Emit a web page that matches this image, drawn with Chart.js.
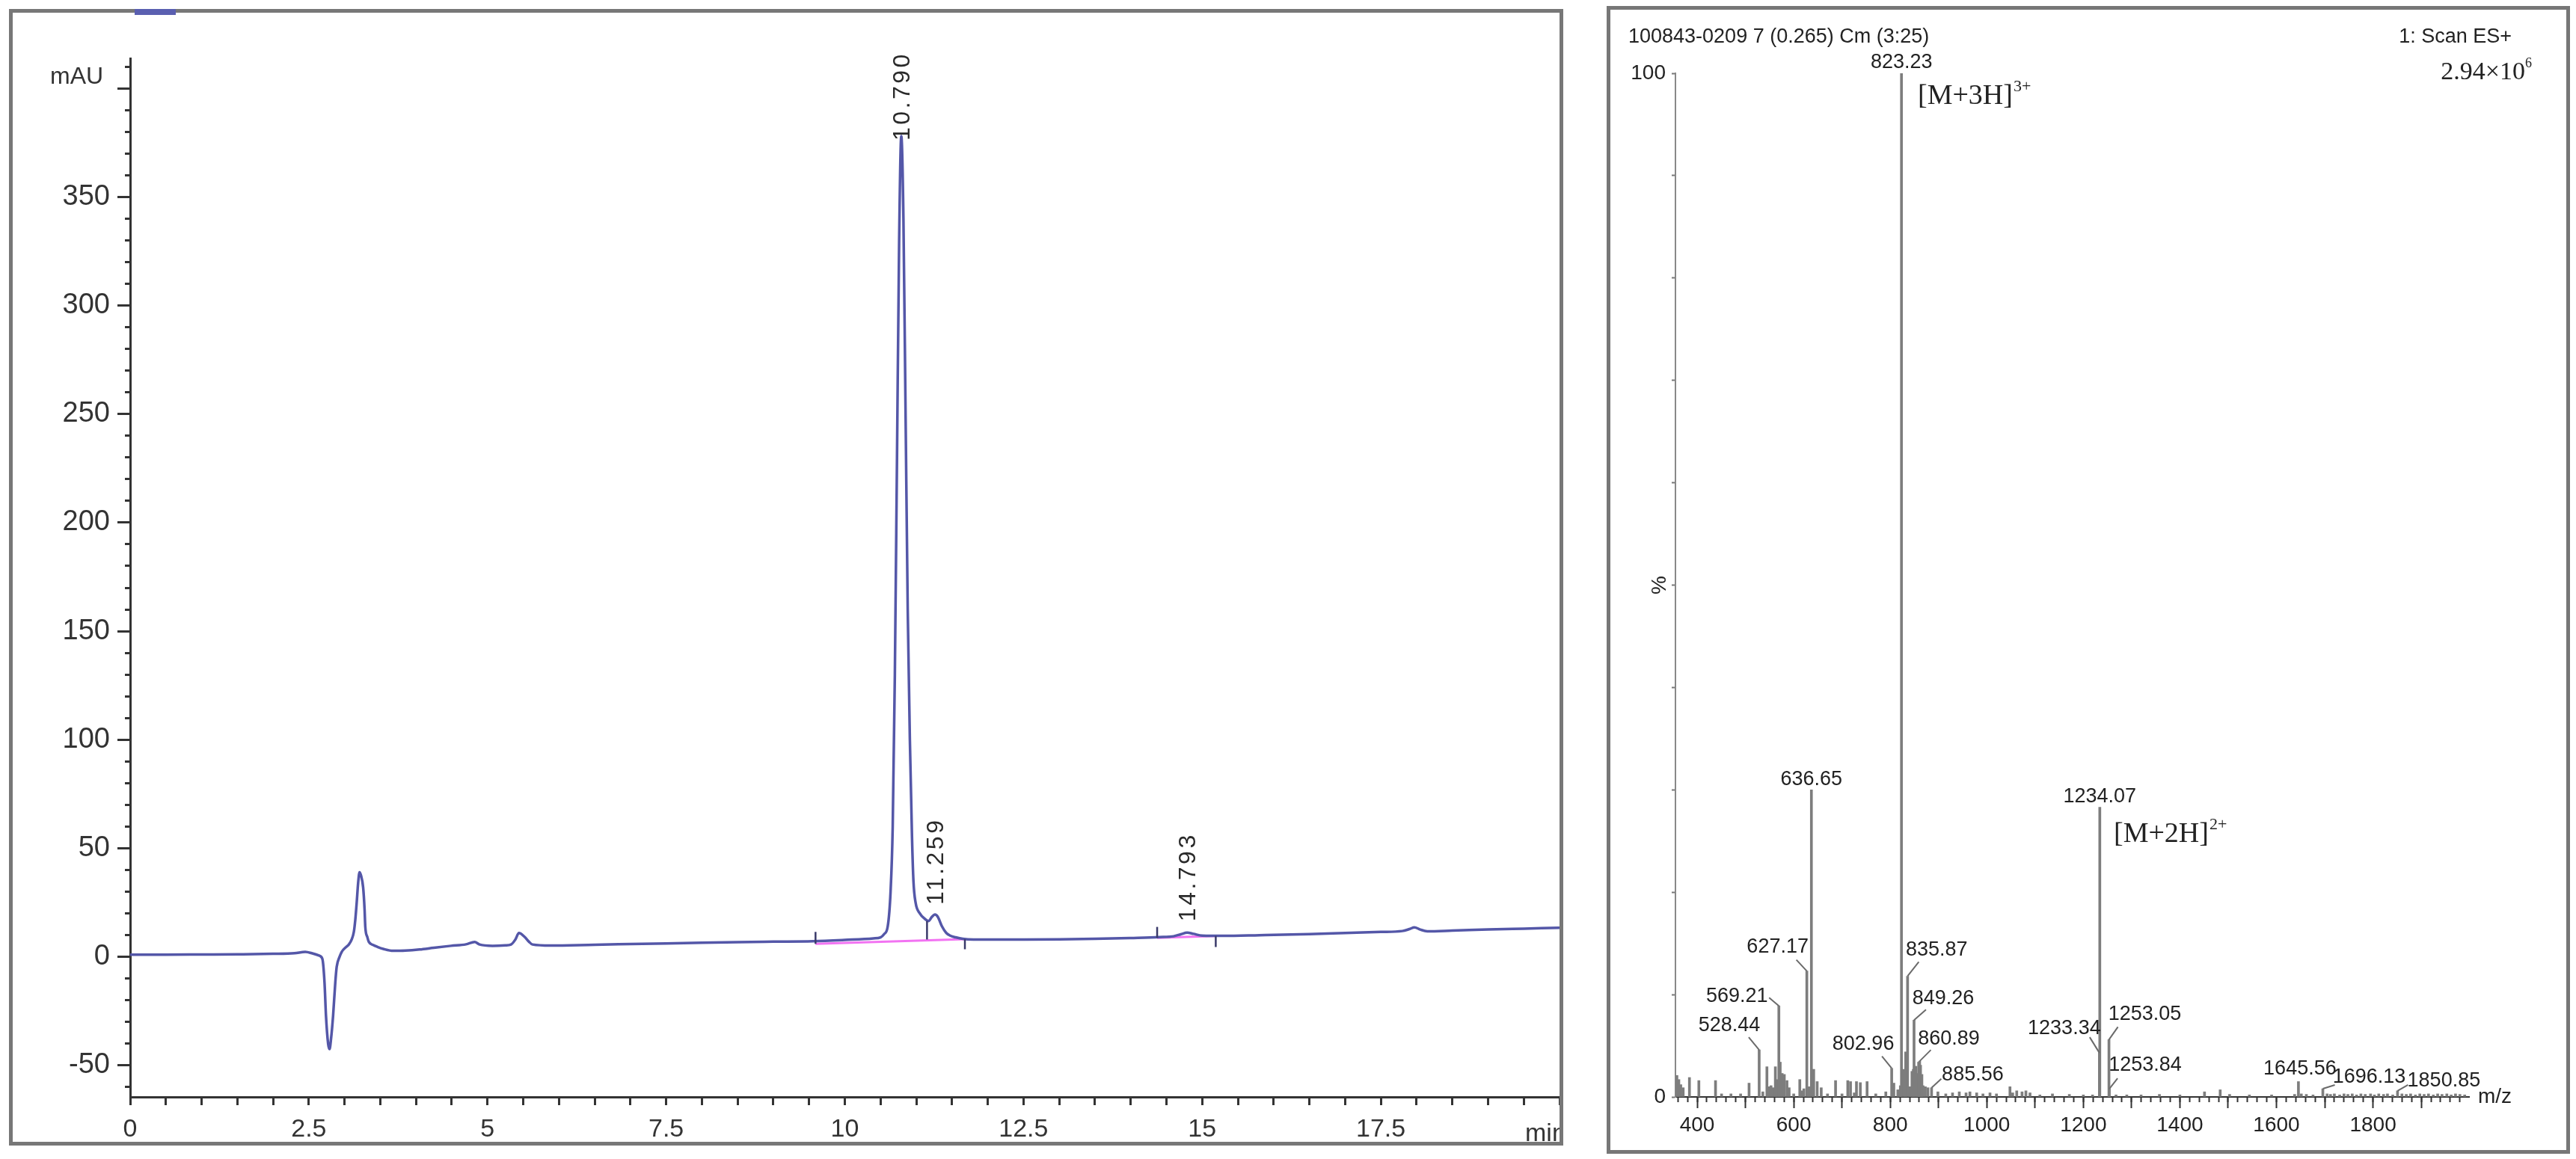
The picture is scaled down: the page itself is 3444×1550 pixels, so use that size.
<!DOCTYPE html>
<html>
<head>
<meta charset="utf-8">
<script src="https://cdn.jsdelivr.net/npm/chart.js@4.4.1/dist/chart.umd.min.js"></script>
<style>
body { margin:0; background:#fff; width:3444px; height:1550px; overflow:hidden; position:relative; }
.panel { position:absolute; box-sizing:border-box; border:5px solid #777; background:#fff; }
#p1 { left:12px; top:12px; width:2078px; height:1520px; }
#p2 { left:2148px; top:8px; width:1288px; height:1535px; }
.panel canvas { position:absolute; left:0; top:0; }
#stub { position:absolute; left:180px; top:12px; width:55px; height:8px; background:#5a5fb0; }
</style>
</head>
<body>
<div class="panel" id="p1"><canvas id="c1" width="2068" height="1510"></canvas></div>
<div class="panel" id="p2"><canvas id="c2" width="1278" height="1525"></canvas></div>
<div id="stub"></div>
<script>
// HPLC trace (min, mAU)
const hplcTime = [0,0.5,1,1.5,2,2.3,2.45,2.55,2.65,2.69,2.72,2.74,2.77,2.79,2.81,2.84,2.87,2.89,2.93,2.96,3.02,3.06,3.1,3.13,3.15,3.17,3.19,3.21,3.23,3.26,3.28,3.29,3.32,3.34,3.4,3.46,3.55,3.68,3.85,4.05,4.25,4.49,4.7,4.82,4.89,5.07,5.25,5.33,5.39,5.44,5.52,5.58,5.63,5.88,6.5,7,7.5,8,8.5,9,9.55,10,10.4,10.5,10.55,10.6,10.64,10.67,10.7,10.73,10.76,10.79,10.82,10.85,10.88,10.91,10.94,10.96,10.99,11.05,11.12,11.17,11.22,11.26,11.3,11.36,11.42,11.48,11.55,11.65,11.8,12.5,13,13.5,14,14.4,14.6,14.7,14.79,14.88,15,15.3,15.8,16.5,17,17.5,17.8,17.9,17.97,18.05,18.15,18.5,19,19.5,20]
const hplcAbs = [1.0,1.0,1.1,1.2,1.4,1.7,2.3,1.6,0.5,-1,-12,-27,-40,-42.5,-38,-27,-12,-4.6,0,2.3,4.5,5.7,8,11.5,17,25,34,39,37.5,32,22,14,9,6.9,5.5,4.6,3.6,2.8,2.9,3.4,4.2,5.1,5.8,6.9,5.7,5.1,5.3,5.7,8,11,9.2,7,5.7,5.2,5.6,5.9,6.2,6.5,6.8,7.0,7.2,7.8,8.5,9.0,10.5,14,30,60,130,230,330,378,340,250,160,100,55,35,25,20,17.5,16.5,18.5,19.5,18.5,14,11,9.7,9.0,8.3,8.0,8.0,8.1,8.3,8.7,9.1,9.5,10.4,11.2,10.6,9.8,9.7,10.0,10.5,11.0,11.5,11.9,12.8,13.6,12.6,11.8,12.1,12.6,13.0,13.4]

const hplcPeakNames = ['10.790', '11.259', '14.793']
const hplcPeakTimes = [10.79, 11.259, 14.793]
const hplcPeakTops = [378, 19.5, 11.2]

// integration baselines [t1, y1, t2, y2] and event marks [t, yFrom, yTo]
const hplcBaselines = [[9.59, 6.0, 11.68, 8.2], [14.37, 8.8, 15.19, 9.6]]
const hplcEvents = [[9.59, 6.0, 11.5], [11.15, 8.0, 16.5], [11.68, 8.2, 3.5], [14.37, 8.8, 13.8], [15.19, 9.6, 4.5]]

// MS spectrum (m/z, relative %)
const msMz = [358,362,366,371,384,403.5,438,450.5,470,490,507.5,528.44,536,544.5,548.5,553,557,562,565.6,569.21,572,576,580.5,586,590.5,600,612.6,616.5,621,627.17,631.4,636.65,641.4,648.6,657,670,686.7,700,712,717.7,725.5,730,738,752,770,790.8,802.96,807.4,815.7,821,823.23,828.4,832,835.87,840.6,845,847.8,849.26,853,856,858.8,860.89,862.7,865.5,868,872.6,878,885.56,898.7,915,929,943,957,965,979,992,1006.6,1020,1048,1053.6,1062,1073,1081,1089.5,1110,1136,1171,1200,1219,1233.34,1234.07,1253.05,1253.84,1267.7,1290,1319.6,1357.6,1400,1451,1483.5,1503,1544,1590,1637.7,1645.56,1651.5,1662,1675.8,1696.13,1705,1712,1720,1731,1740,1748,1757,1766,1775,1784,1795,1803,1812,1822,1830,1841,1850.85,1860,1869,1878,1888,1897,1906,1915,1925,1934,1943,1953,1962,1971,1980,1990]
const msPct = [2.1,1.7,1.2,0.9,1.9,1.6,1.6,0.3,0.3,0.3,1.35,4.6,0.5,2.95,1.0,1.1,0.9,2.95,1.7,8.9,3.4,2.3,2.2,1.6,0.9,0.3,1.7,0.6,0.8,12.3,1.0,30.0,2.7,1.5,0.9,0.3,1.6,0.3,1.6,1.5,0.4,1.5,1.4,1.5,0.3,0.5,2.8,1.35,0.7,1.1,100,2.7,4.4,11.8,1.0,2.5,2.7,7.5,3.0,2.3,3.4,3.5,3.1,2.2,1.1,1.0,0.9,0.9,0.5,0.3,0.4,0.5,0.4,0.5,0.4,0.3,0.4,0.3,1.0,0.4,0.6,0.5,0.6,0.4,0.2,0.3,0.25,0.2,0.2,4.3,28.3,5.6,0.8,0.2,0.2,0.2,0.25,0.2,0.5,0.7,0.25,0.2,0.2,0.25,1.5,0.3,0.25,0.2,0.8,0.3,0.25,0.3,0.2,0.3,0.25,0.3,0.2,0.3,0.25,0.3,0.2,0.3,0.25,0.3,0.2,0.6,0.3,0.25,0.3,0.2,0.3,0.25,0.3,0.2,0.3,0.25,0.3,0.2,0.3,0.25,0.2]

const msLabelMz = [823.23, 636.65, 1234.07, 627.17, 569.21, 528.44, 802.96, 835.87, 849.26, 860.89, 885.56, 1233.34, 1253.05, 1253.84, 1645.56, 1696.13, 1850.85]
// label centre and leader start, px from the peak top
const msLabelDx = [0, 0, 0, -39, -56, -40, -38, 39, 39, 39, 55, -47, 48, 48, 2, 62, 62]
const msLabelDy = [-14, -14, -14, -32, -13, -32, -32, -35, -29, -30, -17, -33, -34, -32, -17, -16, -13]
const msLeadDx = [0, 0, 0, -14, -13, -14, -13, 15, 16, 15, 13, -13, 12, 11, 0, 16, 14]
const msLeadDy = [0, 0, 0, -15, -11, -17, -16, -19, -14, -15, -12, -21, -17, -14, 0, -5, -8]

const SANS = "'Liberation Sans', Arial, sans-serif"
const NARROW = "'Liberation Sans Narrow', 'Arial Narrow', 'Liberation Sans', sans-serif"
const SERIF = "'Liberation Serif', 'Times New Roman', serif"

const noPad = s => { s.paddingLeft = 0; s.paddingRight = 0; s.paddingTop = 0; s.paddingBottom = 0 }

const hplcDatasets = [{
	data: hplcTime.map((t, i) => ({x: t, y: hplcAbs[i]})),
	borderColor: '#5457a8',
	borderWidth: 3.5,
	pointRadius: 0,
	cubicInterpolationMode: 'monotone',
	order: 1,
}]
hplcBaselines.forEach(b => hplcDatasets.push({
	data: [{x: b[0], y: b[1]}, {x: b[2], y: b[3]}],
	borderColor: 'rgba(240,90,240,0.85)', borderWidth: 3, pointRadius: 0, order: 2,
}))
hplcEvents.forEach(e => hplcDatasets.push({
	data: [{x: e[0], y: e[1]}, {x: e[0], y: e[2]}],
	borderColor: '#3a3a6a', borderWidth: 2.5, pointRadius: 0, order: 0,
}))

const hplcText = {
	id: 'hplcText',
	afterDraw(c) {
		const ctx = c.ctx, x = c.scales.x, y = c.scales.y
		ctx.save()
		ctx.fillStyle = '#333'
		ctx.font = '32px ' + NARROW
		ctx.textAlign = 'left'; ctx.textBaseline = 'middle'
		ctx.fillText('mAU', 50, 86)
		ctx.font = '34px ' + NARROW
		ctx.fillText('min', 2022, 1500)
		ctx.font = '32px ' + SANS
		ctx.fillStyle = '#2a2a2a'
		ctx.letterSpacing = '3.5px'
		const gaps = [-6, 13, 15]
		hplcPeakNames.forEach((n, i) => {
			ctx.save()
			ctx.translate(x.getPixelForValue(hplcPeakTimes[i]) + 2, y.getPixelForValue(hplcPeakTops[i]) - gaps[i])
			ctx.rotate(-Math.PI / 2)
			ctx.textAlign = 'left'; ctx.textBaseline = 'middle'
			ctx.fillText(n, 0, 0)
			ctx.restore()
		})
		ctx.restore()
	}
}

new Chart(document.getElementById('c1'), {
	type: 'line',
	data: {datasets: hplcDatasets},
	options: {
		responsive: false, animation: false,
		layout: {padding: {top: 61, left: 0, right: 0, bottom: 0}},
		plugins: {legend: {display: false}, tooltip: {enabled: false}},
		scales: {
			x: {
				type: 'linear', min: 0, max: 20, position: 'bottom',
				grid: {drawOnChartArea: false, tickLength: 11, tickWidth: 3, color: '#333'},
				border: {color: '#333', width: 3},
				ticks: {stepSize: 0.5, autoSkip: false, maxRotation: 0, includeBounds: false, padding: 12, color: '#333', font: {family: NARROW, size: 34},
					callback: v => (Math.abs(v / 2.5 - Math.round(v / 2.5)) < 1e-6 && v < 20) ? String(v) : ''},
				afterFit(s) { s.height = 60; noPad(s) }
			},
			y: {
				type: 'linear', min: -64.5, max: 413.8, position: 'left', weight: 1,
				grid: {drawOnChartArea: false, tickLength: 17, tickWidth: 3, color: '#333'},
				border: {color: '#333', width: 3},
				ticks: {stepSize: 50, autoSkip: false, includeBounds: false, padding: 10, color: '#333', font: {family: NARROW, size: 38},
					callback: v => v === 400 ? '' : String(v)},
				afterFit(s) { s.width = 157; noPad(s) }
			},
			yMinor: {
				type: 'linear', min: -64.5, max: 413.8, position: 'left', weight: 0,
				grid: {drawOnChartArea: false, tickLength: 7, tickWidth: 3, color: '#333'},
				border: {display: false},
				ticks: {stepSize: 10, autoSkip: false, includeBounds: false, callback: () => ''},
				afterFit(s) { s.width = 0; noPad(s) }
			}
		}
	},
	plugins: [hplcText]
})

const msText = {
	id: 'msText',
	afterDraw(c) {
		const ctx = c.ctx, x = c.scales.x, y = c.scales.y
		ctx.save()
		ctx.fillStyle = '#222'
		ctx.textBaseline = 'middle'
		ctx.font = '27px ' + SANS
		ctx.textAlign = 'left'
		ctx.fillText('100843-0209 7 (0.265) Cm (3:25)', 24, 37)
		ctx.textAlign = 'right'
		ctx.fillText('1: Scan ES+', 1205, 37)
		// intensity 2.94x10^6
		ctx.font = '18px ' + SERIF
		const sw = ctx.measureText('6').width
		ctx.fillText('6', 1232, 72)
		ctx.font = '34px ' + SERIF
		ctx.fillText('2.94\u00d710', 1232 - sw, 84)
		// ion annotations
		const ion = (txt, sup, lx, ly) => {
			ctx.textAlign = 'left'
			ctx.font = '38px ' + SERIF
			ctx.fillText(txt, lx, ly)
			const w = ctx.measureText(txt).width
			ctx.font = '22px ' + SERIF
			ctx.fillText(sup, lx + w + 1, ly - 13)
		}
		ion('[M+3H]', '3+', 411, 116)
		ion('[M+2H]', '2+', 673, 1103)
		// axis captions
		ctx.font = '28px ' + SANS
		ctx.textAlign = 'left'
		ctx.fillText('m/z', 1160, y.bottom)
		ctx.save()
		ctx.translate(66, y.getPixelForValue(50))
		ctx.rotate(-Math.PI / 2)
		ctx.textAlign = 'center'
		ctx.fillText('%', 0, 0)
		ctx.restore()
		// peak labels with leaders
		ctx.font = '27px ' + SANS
		ctx.textAlign = 'center'
		ctx.strokeStyle = '#6a6a6a'
		ctx.lineWidth = 2
		msLabelMz.forEach((m, i) => {
			const k = msMz.indexOf(m)
			const px = x.getPixelForValue(m), py = y.getPixelForValue(msPct[k])
			ctx.fillText(m.toFixed(2), px + msLabelDx[i], py + msLabelDy[i])
			if (msLeadDx[i] || msLeadDy[i]) {
				ctx.beginPath()
				ctx.moveTo(px + msLeadDx[i], py + msLeadDy[i])
				ctx.lineTo(px, py)
				ctx.stroke()
			}
		})
		ctx.restore()
	}
}

new Chart(document.getElementById('c2'), {
	type: 'bar',
	data: {datasets: [{
		data: msMz.map((m, i) => ({x: m, y: msPct[i]})),
		backgroundColor: '#7d7d7d',
		barThickness: 3,
		grouped: false,
	}]},
	options: {
		responsive: false, animation: false,
		layout: {padding: {top: 85, right: 130, left: 0, bottom: 0}},
		plugins: {legend: {display: false}, tooltip: {enabled: false}},
		scales: {
			x: {
				type: 'linear', min: 355, max: 1999, offset: false, position: 'bottom', weight: 1,
				grid: {drawOnChartArea: false, offset: false, tickLength: 15, tickWidth: 2, color: '#333'},
				border: {color: '#333', width: 2},
				ticks: {stepSize: 100, autoSkip: false, maxRotation: 0, includeBounds: false, padding: 6, color: '#222', font: {family: SANS, size: 28},
					callback: v => (v % 200 === 0 && v < 2000) ? String(v) : ''},
				afterFit(s) { s.height = 71; noPad(s) }
			},
			xMinor: {
				type: 'linear', min: 355, max: 1999, offset: false, position: 'bottom', weight: 0,
				grid: {drawOnChartArea: false, offset: false, tickLength: 7, tickWidth: 2, color: '#333'},
				border: {display: false},
				ticks: {stepSize: 20, autoSkip: false, includeBounds: false, callback: () => ''},
				afterFit(s) { s.height = 0; noPad(s) }
			},
			y: {
				type: 'linear', min: 0, max: 100, position: 'left',
				grid: {drawOnChartArea: false, tickLength: 5, tickWidth: 2, color: '#777'},
				border: {color: '#888', width: 2},
				ticks: {stepSize: 10, autoSkip: false, padding: 8, color: '#222', font: {family: SANS, size: 28},
					callback: v => (v === 0 || v === 100) ? String(v) : ''},
				afterFit(s) { s.width = 87; noPad(s) }
			}
		}
	},
	plugins: [msText]
})
</script>
</body>
</html>
